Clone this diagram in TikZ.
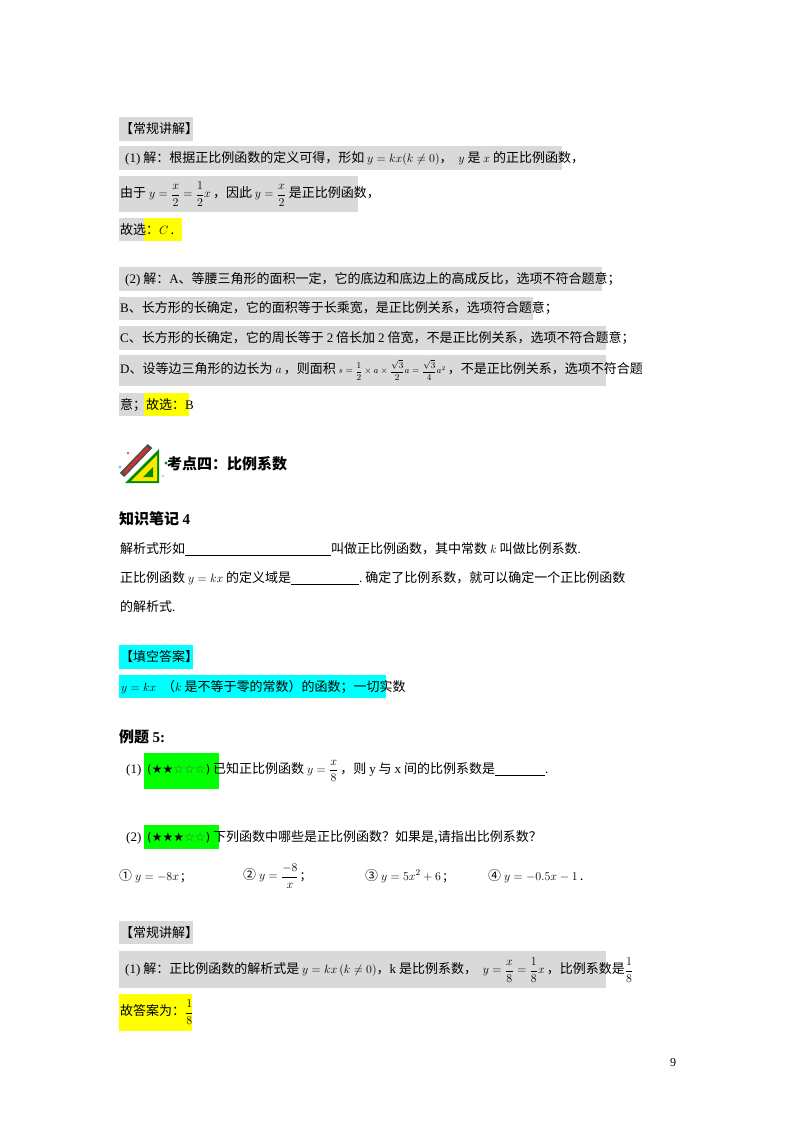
\documentclass[tikz,border=0pt]{standalone}
\usepackage{amsmath}
\usepackage{fontspec}
\setmainfont{Noto Sans CJK SC}
\newfontfamily\lat{Liberation Serif}
\newfontfamily\djv{DejaVu Sans}
\definecolor{hgray}{RGB}{217,217,217}
\definecolor{hyel}{RGB}{255,255,0}
\definecolor{hcyan}{RGB}{0,255,255}
\definecolor{hgreen}{RGB}{0,255,0}
\begin{document}
\begin{tikzpicture}[x=1pt,y=-1pt,
  txt/.style={anchor=west,inner sep=0pt,font=\fontsize{13}{15}\selectfont},
  hd/.style={anchor=west,inner sep=0pt,font=\fontsize{15}{17}\selectfont\bfseries},
  gbox/.style={fill=hgray,draw=none},
  ybox/.style={fill=hyel,draw=none},
  cbox/.style={fill=hcyan,draw=none},
  grbox/.style={fill=hgreen,draw=none}]
\useasboundingbox (0,0) rectangle (800,1132);
% backgrounds
\fill[gbox] (119,117) rectangle (193,141);
\fill[gbox] (119,146) rectangle (562,170);
\fill[gbox] (119,176) rectangle (358,212);
\fill[gbox] (119,218) rectangle (144,241);
\fill[ybox] (144,218) rectangle (182,241);
\fill[gbox] (119,267) rectangle (602,291);
\fill[gbox] (119,297) rectangle (533,320);
\fill[gbox] (119,326) rectangle (606,350);
\fill[gbox] (119,355) rectangle (606,386);
\fill[gbox] (119,393) rectangle (144,416);
\fill[ybox] (144,393) rectangle (189,416);
\fill[cbox] (119,645) rectangle (193,669);
\fill[cbox] (119,675) rectangle (386,698);
\fill[grbox] (144,753) rectangle (219,789);
\fill[grbox] (144,825) rectangle (219,849);
\fill[gbox] (119,921) rectangle (193,944);
\fill[gbox] (119,951) rectangle (606,988);
\fill[ybox] (119,994) rectangle (192,1031);
% texts
\node[txt] (t1) at (120,129) {【常规讲解】};
\node[txt] (t2) at (125,158) {{\lat(1)} 解：根据正比例函数的定义可得，形如 $y=kx(k\neq0)$，\ \ $y$ 是 $x$ 的正比例函数，};
\node[txt] (t3) at (120,194) {由于 $y=\dfrac{x}{2}=\dfrac{1}{2}x$\,，因此 $y=\dfrac{x}{2}$ 是正比例函数，};
\node[txt] (t4) at (120,230) {故选：$C$\,.};
\node[txt] (t5) at (125,279) {{\lat(2)} 解：{\lat A}、等腰三角形的面积一定，它的底边和底边上的高成反比，选项不符合题意；};
\node[txt] (t6) at (120,308) {{\lat B}、长方形的长确定，它的面积等于长乘宽，是正比例关系，选项符合题意；};
\node[txt] (t7) at (120,338) {{\lat C}、长方形的长确定，它的周长等于 {\lat 2} 倍长加 {\lat 2} 倍宽，不是正比例关系，选项不符合题意；};
\node[txt] (t8) at (120,370) {{\lat D}、设等边三角形的边长为 $a$\,，则面积 {\fontsize{9}{10}\selectfont$s=\dfrac{1}{2}\times a\times\dfrac{\sqrt3}{2}a=\dfrac{\sqrt3}{4}a^2$}\,，不是正比例关系，选项不符合题};
\node[txt] (t9) at (120,405) {意；故选：{\lat B}};
% icon
\begin{scope}[shift={(119,443)}]
\fill[green!55!black] (6,40) -- (40,6) -- (40,40) -- cycle;
\fill[yellow!90!orange] (12,38) -- (38,12) -- (38,38) -- cycle;
\fill[green!55!black] (24,34) -- (34,24) -- (34,34) -- cycle;
\draw[line width=6pt,gray!60!black] (3,32) -- (31,3);
\draw[line width=3pt,red!60!gray] (5,30) -- (29,5);
\fill[cyan!60] (1,24) circle (1.6); \fill[red!70] (9,10) circle (1.3);\fill[green!55!black] (47,20) circle (1.6);\fill[cyan!40] (44,33) circle (1.3);
\end{scope}
\node[hd] (h1) at (167,464) {考点四：比例系数};
\node[hd] (h2) at (119,519) {知识笔记 {\lat 4}};
\node[txt] (l1) at (120,549) {解析式形如\underline{\hspace{146pt}}叫做正比例函数，其中常数 $k$ 叫做比例系数{\lat .}};
\node[txt] (l2) at (120,578) {正比例函数 $y=kx$ 的定义域是\underline{\hspace{68pt}}{\lat .}\ 确定了比例系数，就可以确定一个正比例函数};
\node[txt] (l3) at (120,607) {的解析式{\lat .}};
\node[txt] (c1) at (120,657) {【填空答案】};
\node[txt] (c2) at (121,687) {$y=kx$ \ （$k$ 是不等于零的常数）的函数；一切实数};
\node[hd] (h3) at (119,737) {例题 {\lat 5:}};
\node[txt] (e1) at (126,771) {{\lat(1)}\ \ {\djv\fontsize{12}{14}\selectfont(★★\textcolor{black!65}{☆☆☆})} 已知正比例函数 $y=\dfrac{x}{8}$\,，则 {\lat y} 与 {\lat x} 间的比例系数是\underline{\hspace{50pt}}{\lat .}};
\node[txt] (e2) at (126,837) {{\lat(2)}\ \ {\djv\fontsize{12}{14}\selectfont(★★★\textcolor{black!65}{☆☆})} 下列函数中哪些是正比例函数？如果是,请指出比例系数？};
\node[txt] (f1) at (119,876) {① $y=-8x$\,;};
\node[txt] (f2) at (243,876) {② $y=\dfrac{-8}{x}$\,;};
\node[txt] (f3) at (365,876) {③ $y=5x^2+6$\,;};
\node[txt] (f4) at (488,876) {④ $y=-0.5x-1$\,.};
\node[txt] (g1) at (120,933) {【常规讲解】};
\node[txt] (g2) at (125,970) {{\lat(1)} 解：正比例函数的解析式是 $y=kx\left(k\neq0\right)$，{\lat k} 是比例系数，\ \ $y=\dfrac{x}{8}=\dfrac{1}{8}x$\,，比例系数是$\dfrac18$};
\node[txt] (g3) at (120,1012) {故答案为：$\dfrac18$};
\node[anchor=west,inner sep=0pt,font=\lat\fontsize{12}{14}\selectfont] (pn) at (670,1063) {9};
\end{tikzpicture}
\end{document}
